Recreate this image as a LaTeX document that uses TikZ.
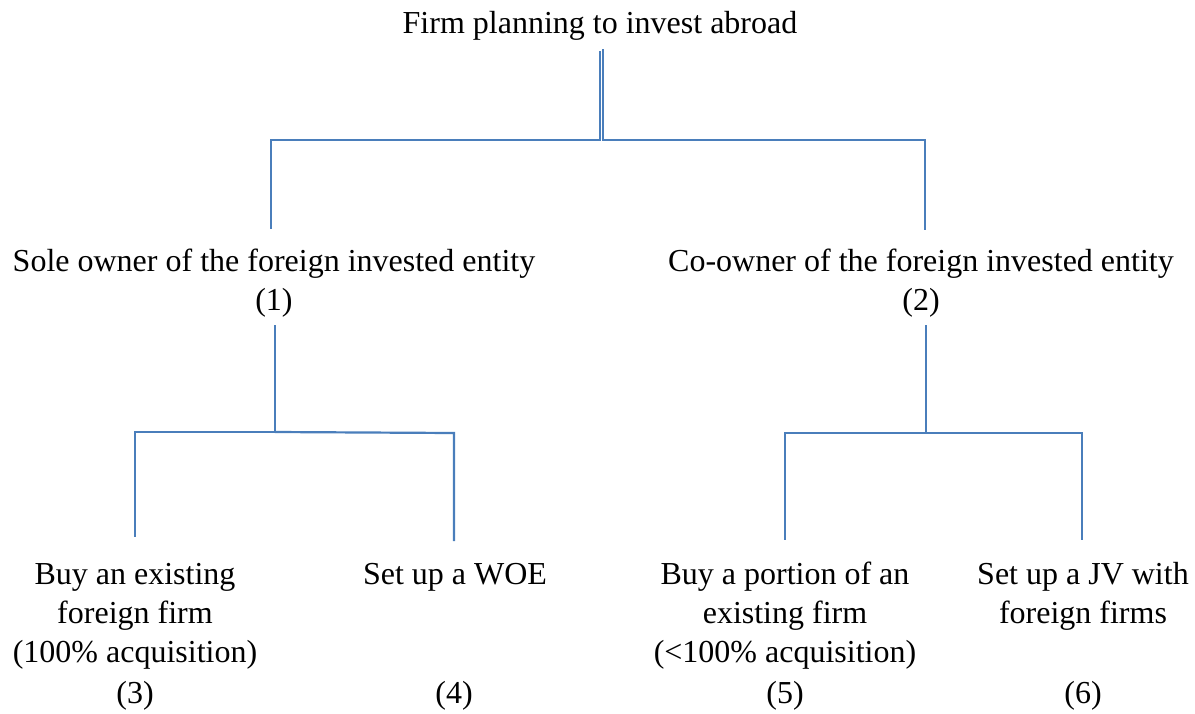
\documentclass[tikz,border=0pt]{standalone}
\usepackage{fontspec}
\setmainfont{Liberation Serif}
\definecolor{wordblue}{RGB}{74,126,187}
\begin{document}
\begin{tikzpicture}[x=1pt,y=-1pt,
  lbl/.style={inner sep=0pt, anchor=base, align=center, font=\fontsize{32}{39}\selectfont},
  conn/.style={draw=wordblue, line width=2.2pt}]
\useasboundingbox (0,0) rectangle (1195,713);
% texts (anchor base = baseline of the last line)
\node[lbl] (top) at (600,33) {Firm planning to invest abroad};
\node[lbl] (sole) at (274,310) {Sole owner of the foreign invested entity\\(1)};
\node[lbl] (co) at (921,310) {Co-owner of the foreign invested entity\\(2)};
\node[lbl] (buy) at (135,662) {Buy an existing\\foreign firm\\(100\% acquisition)};
\node[lbl] (n3) at (135,703) {(3)};
\node[lbl] (woe) at (455,584) {Set up a WOE};
\node[lbl] (n4) at (454,703) {(4)};
\node[lbl] (portion) at (785,662) {Buy a portion of an\\existing firm\\(<100\% acquisition)};
\node[lbl] (n5) at (785,703) {(5)};
\node[lbl] (jv) at (1083,623) {Set up a JV with\\foreign firms};
\node[lbl] (n6) at (1083,703) {(6)};
% connector end points
\coordinate (tl) at (600,51);
\coordinate (tr) at (603,49);
\coordinate (s1) at (271,229);
\coordinate (c1) at (925,230);
\coordinate (sb) at (275,325);
\coordinate (cb) at (926,325);
\coordinate (b3) at (135,537);
\coordinate (b4) at (454,541);
\coordinate (b5) at (785,540);
\coordinate (b6) at (1082,540);
% connectors
\draw[conn] (tl) -- (tl |- 0,140) -- (s1 |- 0,140) -- (s1);
\draw[conn] (tr) -- (tr |- 0,140) -- (c1 |- 0,140) -- (c1);
\draw[conn] (sb) -- (sb |- 0,432) -- (b3 |- 0,432) -- (b3);
\draw[conn] (sb |- 0,432) -- (b4 |- 0,433) -- (b4);
\draw[conn] (cb) -- (cb |- 0,433) -- (b5 |- 0,433) -- (b5);
\draw[conn] (cb |- 0,433) -- (b6 |- 0,433) -- (b6);
\end{tikzpicture}
\end{document}
